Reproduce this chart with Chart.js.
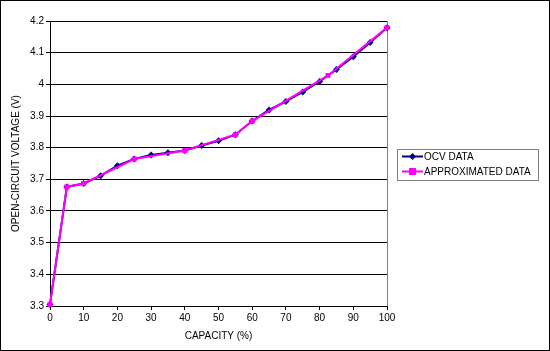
<!DOCTYPE html>
<html>
<head>
<meta charset="utf-8">
<script src="https://cdn.jsdelivr.net/npm/chart.js@4/dist/chart.umd.min.js"></script>
<style>
  html, body { margin: 0; padding: 0; background: #fff; }
  canvas { display: block; }
</style>
</head>
<body>
<canvas id="ocvChart" width="550" height="351"></canvas>
<script>
// capacity (%) vs open-circuit voltage (V)
const ocvCapacity = [0, 5, 10, 15, 20, 25, 30, 35, 40, 45, 50, 55, 60, 65, 70, 75, 80, 85, 90, 95, 100];
const ocvVoltage = [3.305, 3.676, 3.687, 3.711, 3.743, 3.764, 3.777, 3.784, 3.791, 3.807, 3.822,
                    3.841, 3.884, 3.919, 3.946, 3.976, 4.009, 4.047, 4.087, 4.132, 4.179];
const approxCapacity = [0, 5, 10, 25, 40, 55, 60, 82.5, 100];
const approxVoltage = [3.305, 3.676, 3.687, 3.764, 3.791, 3.841, 3.884, 4.028, 4.179];
const seriesLabels = ['OCV DATA', 'APPROXIMATED DATA'];

const toPoints = (xs, ys) => xs.map((x, i) => ({ x: x, y: ys[i] }));
const FONT = { family: '"Liberation Sans", Arial, sans-serif', size: 10 };

const frame = {
  id: 'frame',
  beforeDatasetsDraw(chart) {
    const c = chart.ctx;
    const a = chart.chartArea;
    // gray plot border on the right
    c.save();
    c.strokeStyle = '#808080';
    c.lineWidth = 1;
    c.beginPath();
    c.moveTo(Math.round(a.right) + 0.5, Math.round(a.top));
    c.lineTo(Math.round(a.right) + 0.5, Math.round(a.bottom));
    c.stroke();
    c.restore();
  },
  afterDraw(chart) {
    const c = chart.ctx;
    c.save();
    // legend box
    const lx = 397, ly = 149, lw = 141, lh = 31;
    c.strokeStyle = '#808080';
    c.lineWidth = 1;
    c.strokeRect(lx + 0.5, ly + 0.5, lw, lh);
    c.font = '10px "Liberation Sans", Arial, sans-serif';
    c.textBaseline = 'middle';
    chart.data.datasets.forEach((ds, i) => {
      const y = ly + 7.5 + i * 15;
      c.strokeStyle = ds.borderColor;
      c.lineWidth = 2;
      c.beginPath();
      c.moveTo(402, y);
      c.lineTo(423, y);
      c.stroke();
      c.fillStyle = ds.pointBackgroundColor;
      if (ds.pointStyle === 'rectRot') {
        c.beginPath();
        c.moveTo(412.5, y - 3.5);
        c.lineTo(416, y);
        c.lineTo(412.5, y + 3.5);
        c.lineTo(409, y);
        c.closePath();
        c.fill();
      } else {
        c.fillRect(409, y - 3.5, 7, 7);
      }
      c.fillStyle = '#000';
      c.fillText(ds.label, 424, y + 0.5);
    });

    // outer border
    c.strokeStyle = '#000';
    c.lineWidth = 1;
    c.strokeRect(0.5, 0.5, chart.width - 1, chart.height - 1);
    c.restore();
  }
};

new Chart(document.getElementById('ocvChart'), {
  type: 'scatter',
  data: {
    datasets: [{
      label: seriesLabels[0],
      data: toPoints(ocvCapacity, ocvVoltage),
      showLine: true,
      clip: false,
      borderColor: '#000080',
      backgroundColor: '#000080',
      pointBackgroundColor: '#000080',
      pointBorderColor: '#000080',
      pointStyle: 'rectRot',
      pointRadius: 3.5,
      pointBorderWidth: 0,
      borderWidth: 2,
      order: 2
    }, {
      label: seriesLabels[1],
      data: toPoints(approxCapacity, approxVoltage),
      showLine: true,
      clip: false,
      borderColor: '#FF00FF',
      backgroundColor: '#FF00FF',
      pointBackgroundColor: '#FF00FF',
      pointBorderColor: '#FF00FF',
      pointStyle: 'rect',
      pointRadius: 3.5,
      pointBorderWidth: 0,
      borderWidth: 2,
      order: 1
    }]
  },
  options: {
    responsive: false,
    animation: false,
    layout: { padding: { top: 21, right: 163, left: 0, bottom: 0 } },
    plugins: { legend: { display: false }, tooltip: { enabled: false } },
    scales: {
      x: {
        type: 'linear',
        min: 0, max: 100,
        afterFit: s => { s.height = 45; },
        ticks: { stepSize: 10, color: '#000', font: FONT, padding: 2, maxRotation: 0 },
        grid: { drawOnChartArea: false, drawTicks: true, tickLength: 4, color: '#000' },
        border: { color: '#000', width: 1 },
        title: { display: true, text: 'CAPACITY (%)', color: '#000', font: FONT, padding: { top: 6, bottom: 9 } }
      },
      y: {
        min: 3.3, max: 4.2,
        afterFit: s => { s.width = 50; },
        ticks: {
          stepSize: 0.1, color: '#000', font: FONT, padding: 2,
          callback: v => String(parseFloat(v.toFixed(1)))
        },
        grid: { color: '#000', tickLength: 4, lineWidth: 1 },
        border: { color: '#000', width: 1 },
        title: { display: true, text: 'OPEN-CIRCUIT VOLTAGE (V)', color: '#000', font: FONT, padding: { top: 10, bottom: 0 } }
      }
    }
  },
  plugins: [frame]
});
</script>
</body>
</html>
